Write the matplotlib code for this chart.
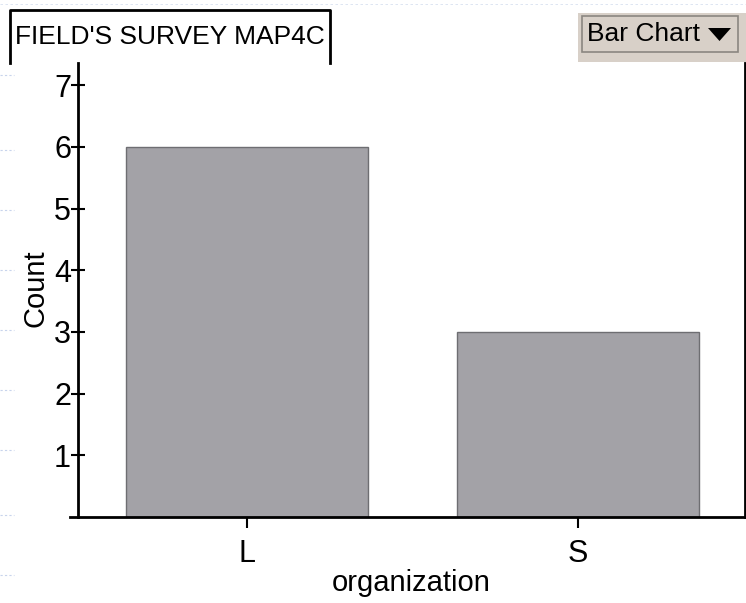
import matplotlib
matplotlib.use("Agg")
import matplotlib.pyplot as plt
from matplotlib.patches import Rectangle, Polygon
from matplotlib.lines import Line2D
from matplotlib import font_manager

categories = ["L", "S"]
counts = [6, 3]
yticks = [1, 2, 3, 4, 5, 6, 7]
title = "FIELD'S SURVEY MAP4C"
xlabel = "organization"
ylabel = "Count"

names = {f.name for f in font_manager.fontManager.ttflist}
fam = "Liberation Sans Narrow" if "Liberation Sans Narrow" in names else "Liberation Sans"
plt.rcParams['font.family'] = [fam, 'DejaVu Sans']

W, H = 746, 603
fig = plt.figure(figsize=(W / 100, H / 100), dpi=100)
fig.patch.set_facecolor("white")

# faint slide background dashes
for yy in [75, 150, 210, 270, 330, 390, 450, 515, 575]:
    fig.add_artist(Line2D([0, 14 / W], [1 - yy / H, 1 - yy / H], color="#c8d4ec",
                          lw=0.8, ls=(0, (2, 2)), transform=fig.transFigure))
fig.add_artist(Line2D([0, 1], [1 - 4 / H, 1 - 4 / H], color="#d8e0f0",
                      lw=0.6, ls=(0, (3, 3)), transform=fig.transFigure))

ax_l, ax_r, ax_b, ax_t = 78, 745, 517, 63
ax = fig.add_axes([ax_l / W, 1 - ax_b / H, (ax_r - ax_l) / W, (ax_b - ax_t) / H])
ax.spines["bottom"].set_position(("data", 0))
x = list(range(len(categories)))
ax.bar(x, counts, width=0.73, color="#a3a2a7", edgecolor="#6e6e72", linewidth=1.0, zorder=2)
ax.set_xlim(-0.51, 1.505)
ax.set_ylim(0, 7.36)
ax.set_xticks(x)
ax.set_xticklabels(categories, fontsize=22)
ax.set_yticks(yticks)
ax.set_yticklabels([str(t) for t in yticks], fontsize=22)
ax.tick_params(axis="y", direction="inout", length=10, width=1.5, pad=0)
ax.tick_params(axis="x", direction="out", length=8, width=1.5, pad=8)
for s in ["left", "bottom", "right"]:
    ax.spines[s].set_linewidth(2)
ax.spines["top"].set_visible(False)
ax.spines["bottom"].set_bounds(-0.535, 1.505)
ax.spines["bottom"].set_clip_on(False)
ax.set_xlabel(xlabel, fontsize=21)
ax.xaxis.set_label_coords(0.5, -0.115)
ax.set_ylabel(ylabel, fontsize=21)
ax.yaxis.set_label_coords(-0.042, 0.505)

# title box
fig.add_artist(Line2D([10 / W, 10 / W, 330 / W, 330 / W],
                      [1 - 63 / H, 1 - 10 / H, 1 - 10 / H, 1 - 63 / H],
                      color="black", lw=2, transform=fig.transFigure))
fig.text(170 / W, 1 - 37 / H, title, fontsize=19, ha="center", va="center")

# Bar Chart button
fig.add_artist(Rectangle((578 / W, 1 - 62 / H), 168 / W, 49 / H, facecolor="#d8d0c8",
                         edgecolor="none", transform=fig.transFigure))
fig.add_artist(Rectangle((582 / W, 1 - 52 / H), 156 / W, 36 / H, facecolor="#d8d0c8",
                         edgecolor="#8a8680", lw=1.2, transform=fig.transFigure))
fig.text(587 / W, 1 - 34 / H, "Bar Chart", fontsize=19, ha="left", va="center")
fig.add_artist(Polygon([[708 / W, 1 - 28 / H], [731 / W, 1 - 28 / H], [719.5 / W, 1 - 41 / H]],
                       closed=True, facecolor="black", edgecolor="none", transform=fig.transFigure))

fig.savefig("out.png", dpi=100)
